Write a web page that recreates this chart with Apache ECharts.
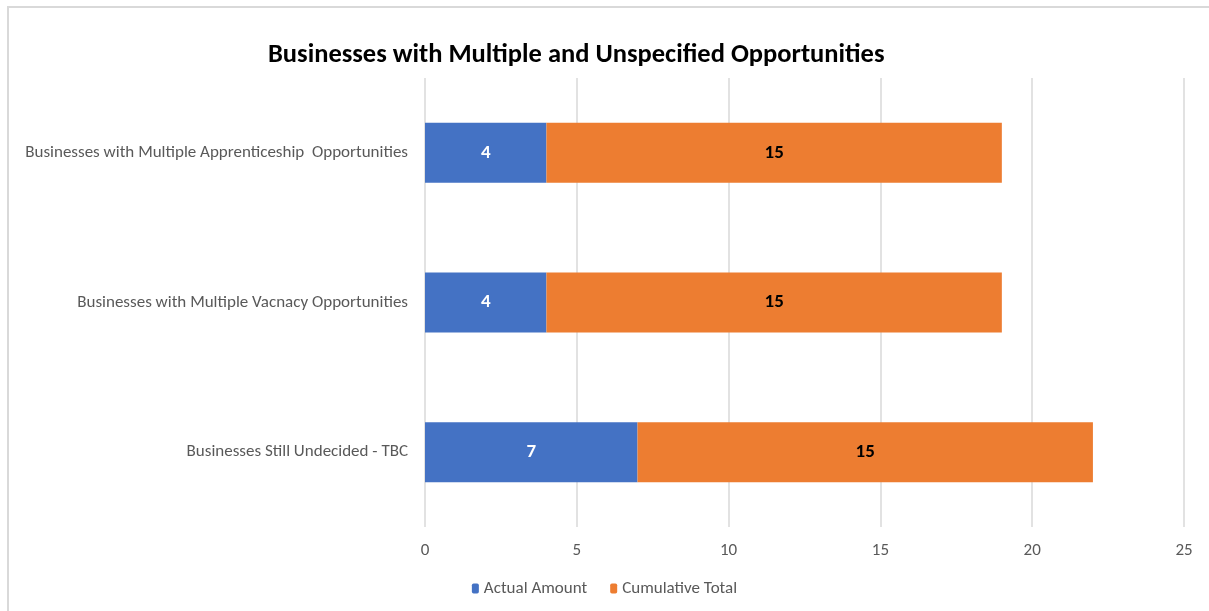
<!DOCTYPE html>
<html>
<head>
<meta charset="utf-8">
<script src="https://cdn.jsdelivr.net/npm/echarts@6/dist/echarts.min.js"></script>
<style>
  html, body { margin: 0; padding: 0; background: #ffffff; }
  #frame { position: absolute; left: 7px; top: 6px; width: 1220px; height: 620px; border: 2px solid #d9d9d9; box-sizing: border-box; }
  #chart { position: absolute; left: 0; top: 0; width: 1209px; height: 611px; }
</style>
</head>
<body>
<div id="frame"></div>
<div id="chart"></div>
<script>
// Categories listed bottom to top (category axis grows upward)
const categories = [
  'Businesses Still Undecided - TBC',
  'Businesses with Multiple Vacnacy Opportunities',
  'Businesses with Multiple Apprenticeship  Opportunities'
];
const actualAmount = [7, 4, 4];
const cumulativeTotal = [15, 15, 15];
const xTicks = [0, 5, 10, 15, 20, 25];

const fontFamily = 'Carlito, "Liberation Sans", Arial, sans-serif';

const chart = echarts.init(document.getElementById('chart'), null, { renderer: 'canvas' });
chart.setOption({
  backgroundColor: 'transparent',
  animation: false,
  title: {
    text: 'Businesses with Multiple and Unspecified Opportunities',
    left: 263,
    top: 37,
    textStyle: { fontFamily, fontSize: 26.5, fontWeight: 'bold', color: '#000000' }
  },
  legend: {
    bottom: 9,
    left: 'center',
    itemWidth: 7,
    itemHeight: 10,
    itemGap: 23,
    textStyle: { fontFamily, fontSize: 17, color: '#595959' },
    data: ['Actual Amount', 'Cumulative Total']
  },
  grid: { left: 425, right: 25, top: 78, bottom: 84 },
  xAxis: {
    type: 'value',
    min: xTicks[0],
    max: xTicks[xTicks.length - 1],
    interval: 5,
    axisLine: { show: false },
    axisTick: { show: false },
    axisLabel: { fontFamily, fontSize: 17, color: '#595959', margin: 15 },
    splitLine: { show: true, lineStyle: { color: '#d9d9d9', width: 1.5 } }
  },
  yAxis: {
    type: 'category',
    data: categories,
    axisLine: { show: false },
    axisTick: { show: false },
    axisLabel: { fontFamily, fontSize: 17, color: '#595959', margin: 17, padding: [3, 0, 0, 0] }
  },
  series: [
    {
      name: 'Actual Amount',
      type: 'bar',
      stack: 'total',
      data: actualAmount,
      barWidth: 60,
      itemStyle: { color: '#4472c4' },
      label: { show: true, position: 'inside', color: '#ffffff', fontFamily, fontSize: 19, fontWeight: 'bold' }
    },
    {
      name: 'Cumulative Total',
      type: 'bar',
      stack: 'total',
      data: cumulativeTotal,
      barWidth: 60,
      itemStyle: { color: '#ed7d31' },
      label: { show: true, position: 'inside', color: '#000000', fontFamily, fontSize: 19, fontWeight: 'bold' }
    }
  ]
});
</script>
</body>
</html>
